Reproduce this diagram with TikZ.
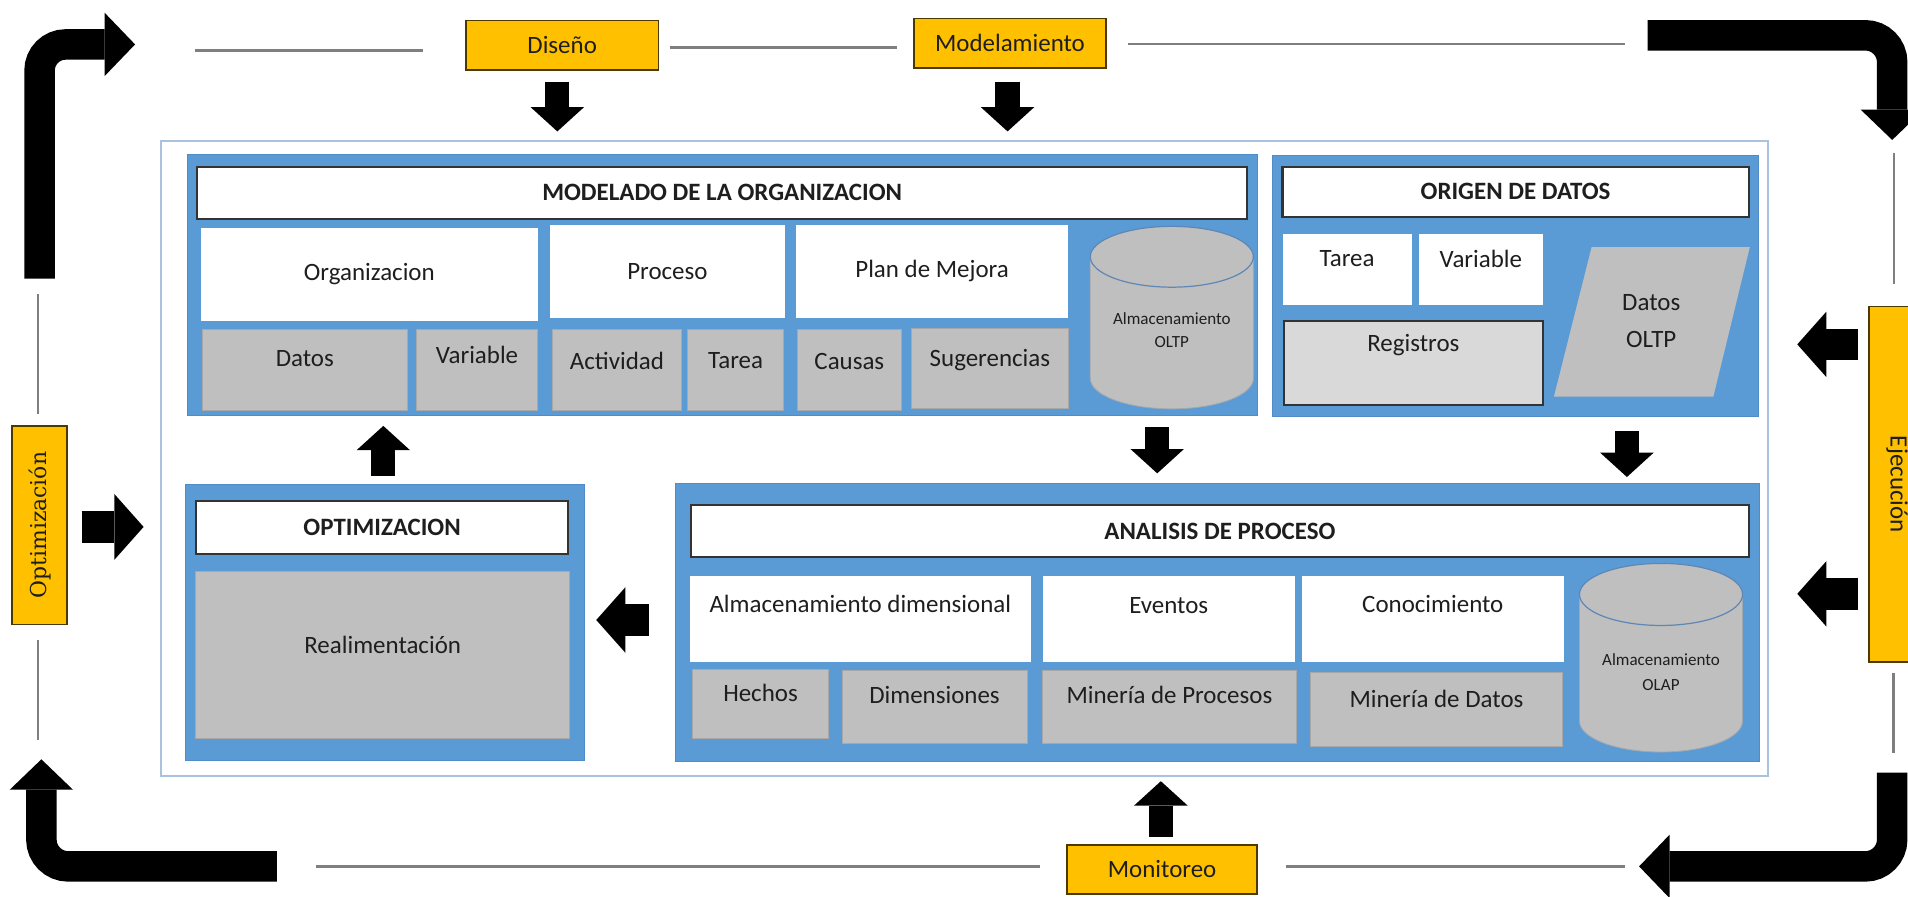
\documentclass[tikz,border=0pt]{standalone}
\usepackage{fontspec}
\usepackage{graphicx}
\setmainfont{Carlito}
\newfontfamily\optfont{DejaVu Serif}
\usetikzlibrary{arrows.meta}
\definecolor{pblue}{HTML}{5B9BD5}
\definecolor{pbluedk}{HTML}{4F8CC9}
\definecolor{pgray}{HTML}{BFBFBF}
\definecolor{gedge}{HTML}{A8A8A8}
\definecolor{lgray}{HTML}{D9D9D9}
\definecolor{porange}{HTML}{FFC000}
\definecolor{obord}{HTML}{4A3A00}
\definecolor{framec}{HTML}{A9C2DE}
\definecolor{txt}{HTML}{1E1E1E}
\definecolor{ttlc}{HTML}{333333}
\definecolor{lineg}{HTML}{7F7F7F}
\definecolor{cylc}{HTML}{5F87B5}
\definecolor{cyle}{HTML}{A0A8B0}
\newcommand\mainfs{\fontsize{20.5}{24}\selectfont}
\begin{document}
\begin{tikzpicture}[x=1pt,y=-1pt,
  every node/.style={inner sep=0pt, outer sep=0pt, text=txt, font=\mainfs},
  bx/.style n args={2}{anchor=north west, minimum width=#1pt, minimum height=#2pt},
  panel/.style={fill=pblue, draw=pbluedk, line width=0.6pt},
  ttl/.style={fill=white, draw=ttlc, line width=1.8pt, font=\mainfs\bfseries},
  wb/.style={fill=white},
  gb/.style={fill=pgray, draw=gedge, line width=0.7pt},
  ob/.style={fill=porange, draw=obord, line width=1.2pt},
  tt/.style n args={2}{label={[anchor=center, yshift=-#1pt, font=\mainfs, text=txt, inner sep=0pt]north:{#2}}},
  cylt/.style={align=center, font=\fontsize{14}{#1}\selectfont},
  gl/.style={draw=lineg, line width=2pt},
  blkv/.style={draw=black, line width=20pt, -{Triangle[length=20pt,width=44pt,line width=0pt]}},
  blkh/.style={draw=black, line width=26pt, -{Triangle[length=24pt,width=54pt,line width=0pt]}},
  big/.style={draw=black, line width=25pt, -{Triangle[length=25pt,width=52pt,line width=0pt]}},
]
\useasboundingbox (0,0) rectangle (1568,737);
\clip (0,0) rectangle (1568,737);
\fill[white] (0,0) rectangle (1568,737);

% outer frame
\node[bx={1321}{522}, fill=white, draw=framec, line width=1.6pt] (frame) at (132,116) {};

% ---------- panel 1
\node[bx={879}{214}, panel] (p1) at (154,127) {};
\node[bx={863}{43}, ttl] (t1) at (162,137) {MODELADO DE LA ORGANIZACION};
\node[bx={277}{77}, wb] (org) at (165,187) {Organizacion};
\node[bx={193}{76}, wb] (proc) at (452,185) {Proceso};
\node[bx={224}{76}, wb] (plan) at (654,185) {Plan de Mejora};
\node[bx={169}{66}, gb, tt={23.5}{Datos}] (datos) at (166,271) {};
\node[bx={100}{66}, gb, tt={21}{Variable}] (var) at (342,271) {};
\node[bx={106}{66}, gb, tt={25.5}{Actividad}] (act) at (454,271) {};
\node[bx={79}{66}, gb, tt={25.5}{Tarea}] (tar) at (565,271) {};
\node[bx={86}{66}, gb, tt={26}{Causas}] (cau) at (655,271) {};
\node[bx={129}{66}, gb, tt={26}{Sugerencias}] (sug) at (749,270) {};
% cylinder OLTP
\fill[pgray] (896,211) rectangle (1030,311);
\fill[pgray] (963,311) ellipse [x radius=67pt, y radius=25pt];
\fill[pgray] (963,211) ellipse [x radius=67pt, y radius=25pt];
\draw[cyle, line width=0.7pt] (896,211) -- (896,311) .. controls (896,324.8) and (926,336) .. (963,336) .. controls (1000,336) and (1030,324.8) .. (1030,311) -- (1030,211);
\draw[cylc, line width=1pt] (963,211) ellipse [x radius=67pt, y radius=25pt];
\node[cylt=19] (oltp) at (963,271) {Almacenamiento\\OLTP};

% ---------- panel 2
\node[bx={399}{214}, panel] (p2) at (1046,128) {};
\node[bx={383}{41}, ttl] (t2) at (1054,137) {ORIGEN DE DATOS};
\node[bx={106}{59}, wb, tt={20.5}{Tarea}] (tar2) at (1054,192) {};
\node[bx={102}{59}, wb, tt={20.5}{Variable}] (var2) at (1166,192) {};
\node[bx={213}{69}, fill=lgray, draw=ttlc, line width=1.6pt, tt={19.5}{Registros}] (reg) at (1055,264) {};
\fill[pgray] (1308,203) -- (1438,203) -- (1408,326) -- (1277,326) -- cycle;
\node[align=center, font=\fontsize{20.5}{30}\selectfont] (dolt) at (1357,264) {Datos\\OLTP};

% ---------- panel 3
\node[bx={328}{227}, panel] (p3) at (152,398) {};
\node[bx={306}{43}, ttl] (t3) at (161,412) {OPTIMIZACION};
\node[bx={307}{137}, gb, tt={60}{Realimentación}] (real) at (161,470) {};

% ---------- panel 4
\node[bx={891}{229}, panel] (p4) at (555,397) {};
\node[bx={869}{43}, ttl] (t4) at (568,415) {ANALISIS DE PROCESO};
\node[bx={280}{71}, wb, tt={23}{Almacenamiento dimensional}] (almd) at (567,473) {};
\node[bx={207}{71}, wb, tt={25}{Eventos}] (ev) at (857,473) {};
\node[bx={215}{71}, wb, tt={23}{Conocimiento}] (con) at (1070,473) {};
\node[bx={112}{57}, gb, tt={19.5}{Hechos}] (hech) at (569,550) {};
\node[bx={152}{60}, gb, tt={20}{Dimensiones}] (dim) at (692,551) {};
\node[bx={208}{60}, gb, tt={20}{Minería de Procesos}] (mdp) at (857,551) {};
\node[bx={207}{60}, gb, tt={21.5}{Minería de Datos}] (mdd) at (1077,553) {};
% cylinder OLAP
\fill[pgray] (1298,488.5) rectangle (1432,592.5);
\fill[pgray] (1365,592.5) ellipse [x radius=67pt, y radius=25.5pt];
\fill[pgray] (1365,488.5) ellipse [x radius=67pt, y radius=25.5pt];
\draw[cyle, line width=0.7pt] (1298,488.5) -- (1298,592.5) .. controls (1298,606.6) and (1328,618) .. (1365,618) .. controls (1402,618) and (1432,606.6) .. (1432,592.5) -- (1432,488.5);
\draw[cylc, line width=1pt] (1365,488.5) ellipse [x radius=67pt, y radius=25.5pt];
\node[cylt=21] (olap) at (1365,552.5) {Almacenamiento\\OLAP};

% ---------- orange phase boxes
\node[bx={158}{40.5}, ob] (dis) at (383,17) {Diseño};
\node[bx={158}{41}, ob] (mod) at (751,15) {Modelamiento};
\node[bx={156}{40}, ob] (mon) at (877,694.5) {Monitoreo};
\node[ob, minimum width=45pt, minimum height=163pt] (opt) at (32.5,431.5) {\rotatebox{90}{\optfont\fontsize{18}{20}\selectfont Optimización}};
\node[ob, minimum width=46pt, minimum height=292pt] (eje) at (1559,398) {\rotatebox{-90}{Ejecución}};

% ---------- thin gray track lines
\draw[gl] ([xshift=-35pt,yshift=-4.25pt]dis.west) -- ([xshift=-223pt,yshift=-4.25pt]dis.west);
\draw[gl] ([xshift=10pt,yshift=-1.75pt]dis.east) -- ([xshift=-14pt,yshift=-1.75pt]dis.east -| mod.west);
\draw[gl] ([xshift=18pt,yshift=-0.5pt]mod.east) -- ([xshift=426pt,yshift=-0.5pt]mod.east);
\draw[gl] ([xshift=-22pt,yshift=2.5pt]mon.west) -- ([xshift=-617pt,yshift=2.5pt]mon.west);
\draw[gl] ([xshift=24pt,yshift=2.5pt]mon.east) -- ([xshift=302pt,yshift=2.5pt]mon.east);
\draw[gl] ([xshift=-1.5pt,yshift=10pt]opt.north) -- ([xshift=-1.5pt,yshift=108pt]opt.north);
\draw[gl] ([xshift=-1.5pt,yshift=-13pt]opt.south) -- ([xshift=-1.5pt,yshift=-95pt]opt.south);
\draw[gl] ([xshift=-2.5pt,yshift=19pt]eje.north) -- ([xshift=-2.5pt,yshift=126pt]eje.north);
\draw[gl] ([xshift=-3pt,yshift=-9pt]eje.south) -- ([xshift=-3pt,yshift=-75pt]eje.south);

% ---------- block arrows
\coordinate (c3) at (951,0);
\coordinate (c4) at (1337,0);
\coordinate (c5) at (0,509.5);
\draw[blkv] ([xshift=-4pt,yshift=-9.5pt]dis.south) -- ([xshift=-4pt,yshift=-50.5pt]dis.south);
\draw[blkv] ([xshift=-2pt,yshift=-11pt]mod.south) -- ([xshift=-2pt,yshift=-52pt]mod.south);
\draw[blkv] ([xshift=-1pt,yshift=7pt]mon.north) -- ([xshift=-1pt,yshift=52.5pt]mon.north);
\draw[blkv, shorten <=7pt, shorten >=9pt] ([xshift=-1pt]p3.north) -- ([xshift=-1pt]p3.north |- p1.south);
\draw[blkv, shorten <=10pt, shorten >=8pt] (c3 |- p1.south) -- (c3 |- p4.north);
\draw[blkv, shorten <=12pt, shorten >=5pt] (c4 |- p2.south) -- (c4 |- p4.north);
\draw[blkh, shorten <=22pt, shorten >=10pt] (c5 -| p4.west) -- (c5 -| p3.east);
\draw[blkh] ([xshift=12pt,yshift=-1.5pt]opt.east) -- ([xshift=63pt,yshift=-1.5pt]opt.east);
\draw[blkh] ([xshift=-9pt,yshift=115pt]eje.west) -- ([xshift=-59pt,yshift=115pt]eje.west);
\draw[blkh] ([xshift=-9pt,yshift=-90pt]eje.west) -- ([xshift=-59pt,yshift=-90pt]eje.west);

% ---------- big cycle arrows
\coordinate (tlS) at (32.5,229);
\coordinate (tlE) at (111,36.5);
\coordinate (trS) at (1354,29);
\coordinate (trE) at (1555,115);
\coordinate (brS) at (1555,635);
\coordinate (brE) at (1347,712);
\coordinate (blS) at (227.5,712);
\coordinate (blE) at (34,624);
\draw[big] (tlS) -- (32.5,58) .. controls (32.5,46.1) and (42.1,36.5) .. (54,36.5) -- (tlE);
\draw[big] (trS) -- (1533,29) .. controls (1545.1,29) and (1555,38.9) .. (1555,51) -- (trE);
\draw[big] (brS) -- (1555,690) .. controls (1555,702.1) and (1545.1,712) .. (1533,712) -- (brE);
\draw[big] (blS) -- (56,712) .. controls (43.9,712) and (34,702.1) .. (34,690) -- (blE);
\end{tikzpicture}
\end{document}
